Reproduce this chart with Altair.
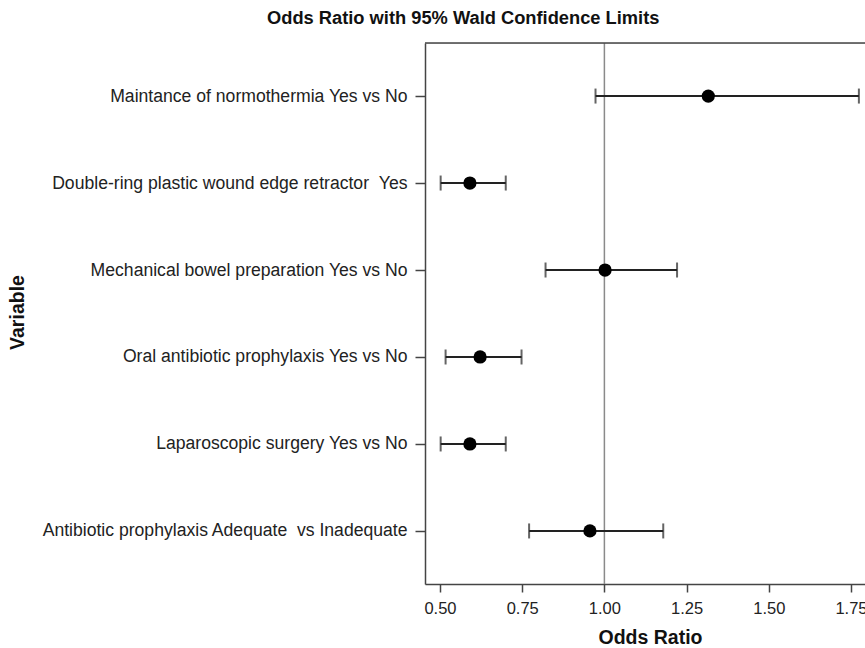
import altair as alt
import pandas as pd

# Odds ratios with 95% Wald confidence limits, listed top to bottom
variables = [
    "Maintance of normothermia Yes vs No",
    "Double-ring plastic wound edge retractor \u00a0Yes",
    "Mechanical bowel preparation Yes vs No",
    "Oral antibiotic prophylaxis Yes vs No",
    "Laparoscopic surgery Yes vs No",
    "Antibiotic prophylaxis Adequate \u00a0vs Inadequate",
]
odds_ratio = [1.316, 0.591, 1.002, 0.622, 0.591, 0.956]
lower_cl = [0.973, 0.502, 0.821, 0.517, 0.502, 0.771]
upper_cl = [1.774, 0.700, 1.221, 0.748, 0.700, 1.179]
x_ticks = [0.50, 0.75, 1.00, 1.25, 1.50, 1.75]

df = pd.DataFrame({"Variable": variables, "OR": odds_ratio,
                   "Lower": lower_cl, "Upper": upper_cl})
ref = pd.DataFrame({"ref": [1.0]})

FONT = "Liberation Sans"
W, H = 440, 541
line_col = "#222222"

x_scale = alt.Scale(domain=[0.4544, 1.7926], nice=False, zero=False)
y_scale = alt.Scale(domain=variables, type="point", padding=0.61)

x_axis = alt.Axis(title="Odds Ratio", values=x_ticks, format=".2f", grid=False,
                  domainColor="#444444", domainWidth=1.5,
                  tickColor="#444444", tickWidth=1.5, tickSize=8,
                  labelFont=FONT, labelFontSize=16.5, labelColor="#222222",
                  labelPadding=8, labelFlush=False,
                  titleFont=FONT, titleFontSize=19.5, titleFontWeight="bold",
                  titleColor="#111111", titlePadding=12, titleX=225)
y_axis = alt.Axis(title="Variable", grid=False,
                  domainColor="#444444", domainWidth=1.5,
                  tickColor="#444444", tickWidth=1.5, tickSize=10,
                  labelFont=FONT, labelFontSize=17.6, labelColor="#222222",
                  labelPadding=8, labelLimit=500,
                  titleFont=FONT, titleFontSize=19.5, titleFontWeight="bold",
                  titleColor="#111111", titleX=-398, titleY=269)

base = alt.Chart(df)

ref_line = alt.Chart(ref).mark_rule(color="#8a8a8a", strokeWidth=1.5).encode(
    x=alt.X("ref:Q", scale=x_scale, axis=x_axis)
)

top_border = alt.Chart(ref).mark_rule(color="#444444", strokeWidth=1.5).encode(
    x=alt.value(0), x2=alt.value(W + 5), y=alt.value(0)
)

whisker = base.mark_rule(color=line_col, strokeWidth=2).encode(
    x=alt.X("Lower:Q", scale=x_scale, axis=x_axis),
    x2="Upper:Q",
    y=alt.Y("Variable:N", scale=y_scale, axis=y_axis, sort=variables),
)

cap_lo = base.mark_tick(color=line_col, thickness=2, size=15, orient="vertical").encode(
    x=alt.X("Lower:Q", scale=x_scale),
    y=alt.Y("Variable:N", scale=y_scale, sort=variables),
)
cap_hi = base.mark_tick(color=line_col, thickness=2, size=15, orient="vertical").encode(
    x=alt.X("Upper:Q", scale=x_scale),
    y=alt.Y("Variable:N", scale=y_scale, sort=variables),
)

points = base.mark_point(filled=True, color="black", opacity=1, size=175, shape="circle").encode(
    x=alt.X("OR:Q", scale=x_scale),
    y=alt.Y("Variable:N", scale=y_scale, sort=variables),
)

chart = alt.layer(ref_line, whisker, cap_lo, cap_hi, points, top_border).properties(
    width=W,
    height=H,
    title=alt.TitleParams(
        "Odds Ratio with 95% Wald Confidence Limits",
        font=FONT, fontSize=18.3, fontWeight="bold", color="#111111",
        anchor="start", frame="group", dx=-158, offset=14,
    ),
    autosize=alt.AutoSizeParams(type="none"),
    padding={"left": 425, "top": 43, "right": 0, "bottom": 64},
).configure_view(stroke=None).configure(background="white")

chart.save("out.html", embed_options={"renderer": "svg", "actions": False})
